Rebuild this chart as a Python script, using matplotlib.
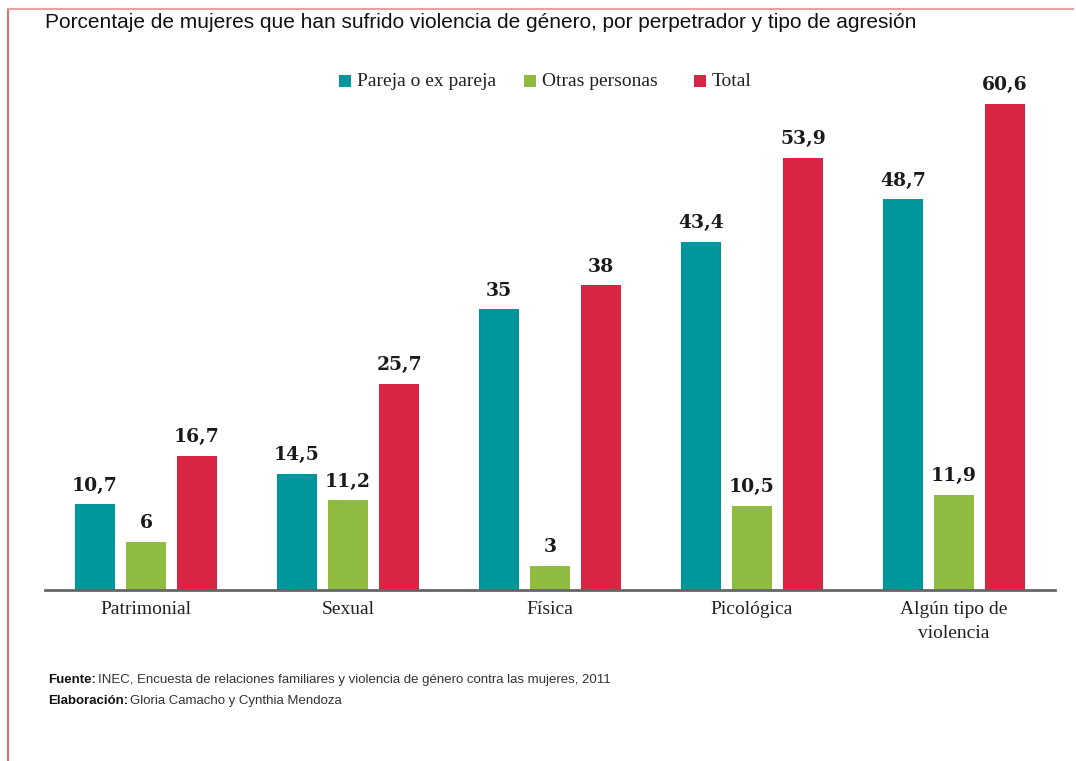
import matplotlib
matplotlib.use("Agg")
import matplotlib.pyplot as plt
from matplotlib.lines import Line2D
from matplotlib.patches import Rectangle
import numpy as np

categories = ["Patrimonial", "Sexual", "Física", "Picológica", "Algún tipo de\nviolencia"]
series_names = ["Pareja o ex pareja", "Otras personas", "Total"]
pareja = [10.7, 14.5, 35, 43.4, 48.7]
otras = [6, 11.2, 3, 10.5, 11.9]
total = [16.7, 25.7, 38, 53.9, 60.6]
colors = ["#00979c", "#8fbb40", "#d92543"]

title = "Porcentaje de mujeres que han sufrido violencia de género, por perpetrador y tipo de agresión"
fuente = "INEC, Encuesta de relaciones familiares y violencia de género contra las mujeres, 2011"
elaboracion = "Gloria Camacho y Cynthia Mendoza"

W, H = 1076, 761
fig = plt.figure(figsize=(W / 100, H / 100), dpi=100)
fig.patch.set_facecolor("white")

def fx(px):
    return px / W

def fy(py):
    return 1 - py / H

# axes: x from 45 to 1055 px, baseline at 590 px, ylim 0..66 at 8.02 px/unit
ymax = 66
ax_left, ax_right = 45, 1055
ax_bottom = 590
ax_top = ax_bottom - ymax * 8.02
ax = fig.add_axes([fx(ax_left), fy(ax_bottom), fx(ax_right - ax_left), (ax_bottom - ax_top) / H])
ax.set_xlim(-0.5, 4.5)
ax.set_ylim(0, ymax)

x = np.arange(len(categories))
step = 51 / 202
width = 40 / 202
serif = ["DejaVu Serif"]
for k, (vals, col) in enumerate(zip([pareja, otras, total], colors)):
    xs = x + (k - 1) * step
    ax.bar(xs, vals, width=width, color=col, label=series_names[k], zorder=2)
    for xi, v in zip(xs, vals):
        lab = f"{v:g}".replace(".", ",")
        ax.text(xi, v + 1.2, lab, ha="center", va="bottom", fontsize=13.5,
                fontweight="bold", family=serif, color="#1a1a1a")

for s in ["top", "right", "left"]:
    ax.spines[s].set_visible(False)
ax.spines["bottom"].set_color("#666666")
ax.spines["bottom"].set_linewidth(2)
ax.set_yticks([])
ax.set_xticks(x)
ax.set_xticklabels(categories, family=["Liberation Serif"], fontsize=14, color="#222222",
                   linespacing=1.5)
ax.tick_params(axis="x", length=0, pad=8)

# title
fig.text(fx(45), fy(23), title, ha="left", va="center", fontsize=15,
         family=["Liberation Sans"], color="#111111")

# legend (manual)
leg_items = [(345, series_names[0]), (530, series_names[1]), (700, series_names[2])]
for (px, name), col in zip(leg_items, colors):
    fig.patches.append(Rectangle((fx(px - 6), fy(87)), fx(12), 12 / H, transform=fig.transFigure,
                                 facecolor=col, edgecolor="none"))
    fig.text(fx(px + 12), fy(81), name, ha="left", va="center", fontsize=14,
             family=["Liberation Serif"], color="#222222")

# footer
foot_font = ["Liberation Sans"]
t1 = fig.text(fx(48), fy(680), "Fuente:", ha="left", va="center", fontsize=9.5,
              family=foot_font, fontweight="bold", color="#111111")
t2 = fig.text(fx(48), fy(701), "Elaboración:", ha="left", va="center", fontsize=9.5,
              family=foot_font, fontweight="bold", color="#111111")
fig.canvas.draw()
r = fig.canvas.get_renderer()
b1 = t1.get_window_extent(r)
b2 = t2.get_window_extent(r)
fig.text(b1.x1 / W + fx(2), fy(680), fuente, ha="left", va="center", fontsize=9.5,
         family=foot_font, color="#333333")
fig.text(b2.x1 / W + fx(2), fy(701), elaboracion, ha="left", va="center", fontsize=9.5,
         family=foot_font, color="#333333")

# border lines
fig.add_artist(Line2D([fx(8), fx(8)], [fy(9), 0], transform=fig.transFigure,
                      color="#e07070", linewidth=1.5))
fig.add_artist(Line2D([fx(8), fx(1073)], [fy(9), fy(9)], transform=fig.transFigure,
                      color="#e8a0a0", linewidth=1.5))

fig.savefig("out.png", dpi=100, facecolor="white")
